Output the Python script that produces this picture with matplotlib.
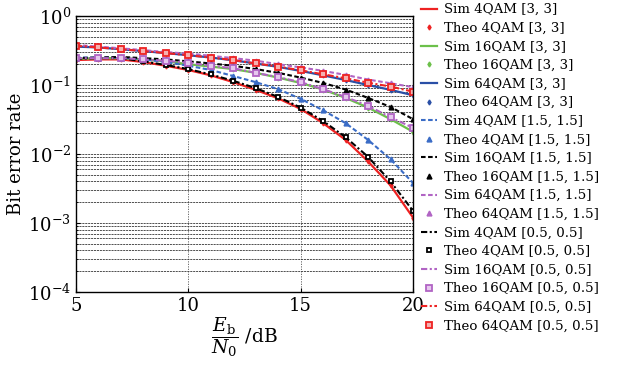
import matplotlib
matplotlib.use("Agg")
import matplotlib.pyplot as plt
import numpy as np

plt.rcParams['font.family'] = ['DejaVu Serif']
plt.rcParams['mathtext.fontset'] = 'dejavuserif'

snr = [5, 6, 7, 8, 9, 10, 11, 12, 13, 14, 15, 16, 17, 18, 19, 20]

# [3, 3]
ber_4qam_3 = [0.23, 0.235, 0.235, 0.215, 0.19, 0.165, 0.138, 0.11, 0.085, 0.064, 0.045, 0.028, 0.016, 0.0078, 0.0035, 0.0012]
ber_16qam_3 = [0.24, 0.245, 0.245, 0.235, 0.22, 0.2, 0.185, 0.17, 0.15, 0.128, 0.107, 0.086, 0.065, 0.047, 0.032, 0.021]
ber_64qam_3 = [0.36, 0.35, 0.33, 0.31, 0.29, 0.27, 0.25, 0.228, 0.205, 0.183, 0.16, 0.138, 0.118, 0.1, 0.085, 0.071]
# [1.5, 1.5]
ber_4qam_15 = [0.25, 0.25, 0.25, 0.235, 0.215, 0.19, 0.165, 0.135, 0.11, 0.087, 0.063, 0.043, 0.028, 0.016, 0.0084, 0.0038]
ber_16qam_15 = [0.245, 0.25, 0.255, 0.245, 0.235, 0.22, 0.205, 0.19, 0.17, 0.15, 0.128, 0.107, 0.086, 0.065, 0.048, 0.032]
ber_64qam_15 = [0.38, 0.36, 0.34, 0.32, 0.3, 0.285, 0.265, 0.245, 0.225, 0.2, 0.18, 0.16, 0.14, 0.12, 0.106, 0.093]
# [0.5, 0.5]
ber_4qam_05 = [0.24, 0.245, 0.245, 0.22, 0.195, 0.17, 0.142, 0.115, 0.09, 0.067, 0.047, 0.03, 0.0175, 0.0091, 0.004, 0.0015]
ber_16qam_05 = [0.245, 0.245, 0.245, 0.235, 0.225, 0.21, 0.19, 0.175, 0.15, 0.13, 0.11, 0.087, 0.067, 0.05, 0.034, 0.024]
ber_64qam_05 = [0.37, 0.35, 0.33, 0.31, 0.29, 0.27, 0.25, 0.23, 0.205, 0.185, 0.163, 0.143, 0.125, 0.108, 0.095, 0.08]

RED = '#ee2222'
GREEN = '#6cc04a'
BLUE = '#2a4fa6'
LBLUE = '#3a6cc6'
PURPLE = '#b164c4'
BLACK = '#000000'

DASH = (2.2, 1.2)
DASHDOT = (3, 1.2, 1, 1.2)

fig = plt.figure(figsize=(6.18, 3.70), dpi=100)
ax = fig.add_axes([76/618, 1-292/370, (413-76)/618, (292-16)/370])

ax.plot(snr, ber_4qam_3, '-', color=RED, lw=1.6, label='Sim 4QAM [3, 3]')
ax.plot(snr, ber_4qam_3, 'd', color=RED, ms=2.5, ls='none', label='Theo 4QAM [3, 3]')
ax.plot(snr, ber_16qam_3, '-', color=GREEN, lw=1.6, label='Sim 16QAM [3, 3]')
ax.plot(snr, ber_16qam_3, 'd', color=GREEN, ms=2.5, ls='none', label='Theo 16QAM [3, 3]')
ax.plot(snr, ber_64qam_3, '-', color=BLUE, lw=1.6, label='Sim 64QAM [3, 3]')
ax.plot(snr, ber_64qam_3, 'd', color=BLUE, ms=2.5, ls='none', label='Theo 64QAM [3, 3]')

ax.plot(snr, ber_4qam_15, color=LBLUE, lw=1.5, dashes=DASH, label='Sim 4QAM [1.5, 1.5]')
ax.plot(snr, ber_4qam_15, '^', color=LBLUE, ms=3.5, ls='none', label='Theo 4QAM [1.5, 1.5]')
ax.plot(snr, ber_16qam_15, color=BLACK, lw=1.5, dashes=DASH, label='Sim 16QAM [1.5, 1.5]')
ax.plot(snr, ber_16qam_15, '^', color=BLACK, ms=3.5, ls='none', label='Theo 16QAM [1.5, 1.5]')
ax.plot(snr, ber_64qam_15, color=PURPLE, lw=1.5, dashes=DASH, label='Sim 64QAM [1.5, 1.5]')
ax.plot(snr, ber_64qam_15, '^', color=PURPLE, ms=3.5, ls='none', label='Theo 64QAM [1.5, 1.5]')

ax.plot(snr, ber_4qam_05, color=BLACK, lw=1.5, dashes=DASHDOT, label='Sim 4QAM [0.5, 0.5]')
ax.plot(snr, ber_4qam_05, 's', mec=BLACK, mfc='white', mew=1.3, ms=3.5, ls='none', label='Theo 4QAM [0.5, 0.5]')
ax.plot(snr, ber_16qam_05, color=PURPLE, lw=1.5, dashes=DASHDOT, label='Sim 16QAM [0.5, 0.5]')
ax.plot(snr, ber_16qam_05, 's', mec=PURPLE, mfc='#e6c8ee', mew=1.3, ms=3.8, ls='none', label='Theo 16QAM [0.5, 0.5]')
ax.plot(snr, ber_64qam_05, color=RED, lw=1.5, dashes=DASHDOT, label='Sim 64QAM [0.5, 0.5]')
ax.plot(snr, ber_64qam_05, 's', mec=RED, mfc='#f5b0b0', mew=1.3, ms=3.8, ls='none', label='Theo 64QAM [0.5, 0.5]')

ax.set_yscale('log')
ax.set_xlim(5, 20)
ax.set_ylim(1e-4, 1)
ax.set_xticks([5, 10, 15, 20])
ax.set_yticks([1e-4, 1e-3, 1e-2, 1e-1, 1e0])
ax.set_yticklabels([r'$10^{-4}$', r'$10^{-3}$', r'$10^{-2}$', r'$10^{-1}$', r'$10^{0}$'])
ax.tick_params(axis='both', which='major', labelsize=13, direction='in', length=3)
ax.tick_params(axis='y', which='minor', direction='in', length=1.5)

ax.yaxis.grid(True, which='both', color='#333333', linestyle=(0, (2.5, 1)), lw=0.6)
ax.xaxis.grid(True, which='major', color='#555555', linestyle=(0, (1.5, 1.5)), lw=0.6)
for s in ax.spines.values():
    s.set_linewidth(1.0)

ax.set_ylabel('Bit error rate', fontsize=13, labelpad=2)
ax.set_xlabel(r'$\dfrac{E_\mathrm{b}}{N_0}$ /dB', fontsize=13.5, labelpad=0)

leg = fig.legend(loc='upper left', bbox_to_anchor=(420/618, 0.995), frameon=False,
                 fontsize=9.6, handlelength=1.2, handletextpad=0.5,
                 labelspacing=0.42, borderaxespad=0.0, borderpad=0.1)

fig.savefig('out.png', dpi=100)
